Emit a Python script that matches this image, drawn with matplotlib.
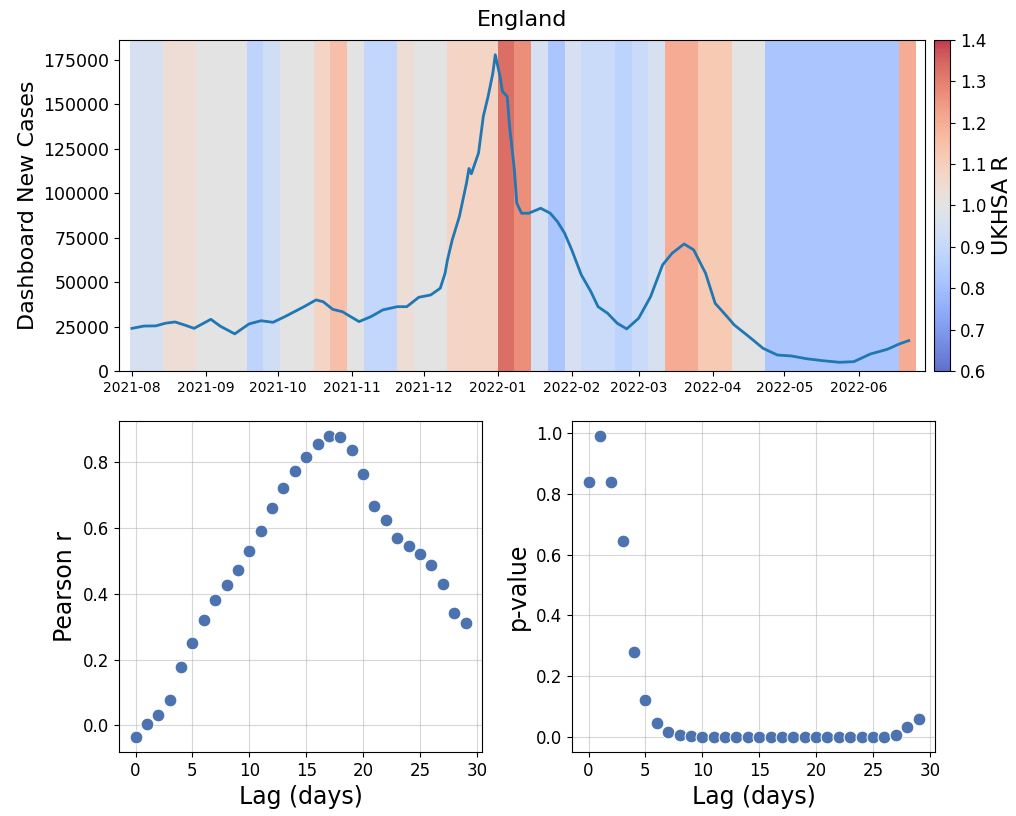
import numpy as np
import pandas as pd
import matplotlib
matplotlib.use("Agg")
import matplotlib.pyplot as plt
import matplotlib.dates as mdates
from matplotlib.colors import Normalize
from matplotlib.cm import ScalarMappable

# ---------------- data ----------------
region = "England"
case_start = "2021-08-01"
case_day_offsets = [0, 5, 10, 14, 18, 22, 26, 33, 37, 43, 49, 54, 59, 64, 68, 72, 77, 80, 84,
                    88, 92, 95, 100, 105, 111, 115, 120, 125, 129, 131, 132, 134, 137, 140, 141,
                    142, 145, 147, 149, 151, 152, 154, 155, 157, 158, 160, 161, 163, 166, 171,
                    175, 178, 181, 184, 188, 192, 195, 199, 203, 207, 212, 217, 222, 226, 231,
                    235, 240, 244, 249, 252, 259, 264, 270, 276, 282, 289, 296, 302, 309, 316,
                    321, 325]
case_values = [24000, 25300, 25400, 26900, 27600, 25900, 24000, 29100, 25200, 20900, 26500,
               28300, 27400, 30600, 33400, 36200, 40000, 39000, 34700, 33400, 30200, 27800,
               30600, 34400, 36200, 36200, 41500, 42800, 46600, 55000, 62500, 73800, 87000,
               106000, 114000, 111000, 122700, 143300, 154500, 167700, 178000, 165800, 157400,
               154500, 137600, 113200, 94500, 88800, 88800, 91600, 88800, 84100, 77600, 68200,
               54100, 44700, 36200, 32500, 26900, 23700, 29700, 41900, 59700, 66300, 71500,
               68200, 55000, 38100, 30600, 25900, 18400, 12800, 9000, 8450, 6950, 5800, 4900,
               5250, 9600, 12200, 15200, 17100]

r_week_start = "2021-07-31"
r_values = [0.95, 0.95, 1.04, 1.04, 1.00, 1.00, 1.00, 0.88, 0.93, 1.00, 1.00, 1.08, 1.15,
            1.00, 0.89, 0.89, 1.04, 1.00, 1.00, 1.08, 1.08, 1.08, 1.33, 1.27, 0.95, 0.82,
            0.95, 0.91, 0.91, 0.87, 0.91, 0.95, 1.20, 1.20, 1.12, 1.12, 1.00, 1.00, 0.82,
            0.82, 0.82, 0.82, 0.82, 0.82, 0.82, 0.82, 1.20]

lags = list(range(30))
pearson_r = [-0.035, 0.003, 0.032, 0.076, 0.177, 0.250, 0.319, 0.380, 0.426, 0.472, 0.528,
             0.589, 0.660, 0.721, 0.771, 0.813, 0.855, 0.878, 0.874, 0.836, 0.764, 0.666,
             0.622, 0.570, 0.543, 0.520, 0.487, 0.428, 0.341, 0.310]
p_values = [0.839, 0.991, 0.841, 0.644, 0.280, 0.123, 0.047, 0.016, 0.005, 0.002, 0.0003,
            0.0001, 0.0, 0.0, 0.0, 0.0, 0.0, 0.0, 0.0, 0.0, 0.0, 0.0, 0.0, 0.0, 0.0001,
            0.0008, 0.001, 0.007, 0.034, 0.059]

# ---------------- figure ----------------
W, H = 1016, 816
fig = plt.figure(figsize=(W / 100, H / 100), dpi=100)

def rect(l, t, r, b):
    return [l / W, 1 - b / H, (r - l) / W, (b - t) / H]

ax = fig.add_axes(rect(119, 40, 925, 371))
cax = fig.add_axes(rect(934, 40, 950, 371))
ax1 = fig.add_axes(rect(119, 421, 482, 752))
ax2 = fig.add_axes(rect(572, 421, 935, 752))

cmap = plt.get_cmap("coolwarm")
norm = Normalize(vmin=0.6, vmax=1.4)

wk0 = pd.Timestamp(r_week_start)
for i, r in enumerate(r_values):
    s = wk0 + pd.Timedelta(days=7 * i)
    e = s + pd.Timedelta(days=7)
    ax.axvspan(s, e, color=cmap(norm(r)), alpha=0.8, lw=0)

dates = pd.Timestamp(case_start) + pd.to_timedelta(case_day_offsets, unit="D")
ax.plot(dates, case_values, color="#1f77b4", lw=2)
ax.set_ylim(bottom=0, top=186300)
ax.set_xlim(pd.Timestamp("2021-07-26 14:00"), pd.Timestamp("2022-06-28 19:00"))
ax.xaxis.set_major_locator(mdates.MonthLocator())
ax.xaxis.set_major_formatter(mdates.DateFormatter("%Y-%m"))
ax.tick_params(axis="x", labelsize=10)
ax.tick_params(axis="y", labelsize=12.5)
ax.set_ylabel("Dashboard New Cases", fontsize=16)
ax.set_title(region, fontsize=16, pad=10)

sm = ScalarMappable(norm=norm, cmap=cmap)
cb = fig.colorbar(sm, cax=cax, alpha=0.8)
cb.set_label("UKHSA R", fontsize=16)
cb.ax.tick_params(labelsize=12)

sc_kw = dict(color="#4C72B0", edgecolor="white", s=85, linewidth=0.75, zorder=3)
ax1.scatter(lags, pearson_r, **sc_kw)
ax1.set_xlabel("Lag (days)", fontsize=17)
ax1.set_ylabel("Pearson r", fontsize=17)
ax2.scatter(lags, p_values, **sc_kw)
ax2.set_xlabel("Lag (days)", fontsize=17)
ax2.set_ylabel("p-value", fontsize=17)
for a in (ax1, ax2):
    a.grid(True, alpha=0.5)
    a.set_axisbelow(True)
    a.tick_params(labelsize=12)
    a.set_xticks([0, 5, 10, 15, 20, 25, 30])

fig.savefig("out.png", dpi=100)
